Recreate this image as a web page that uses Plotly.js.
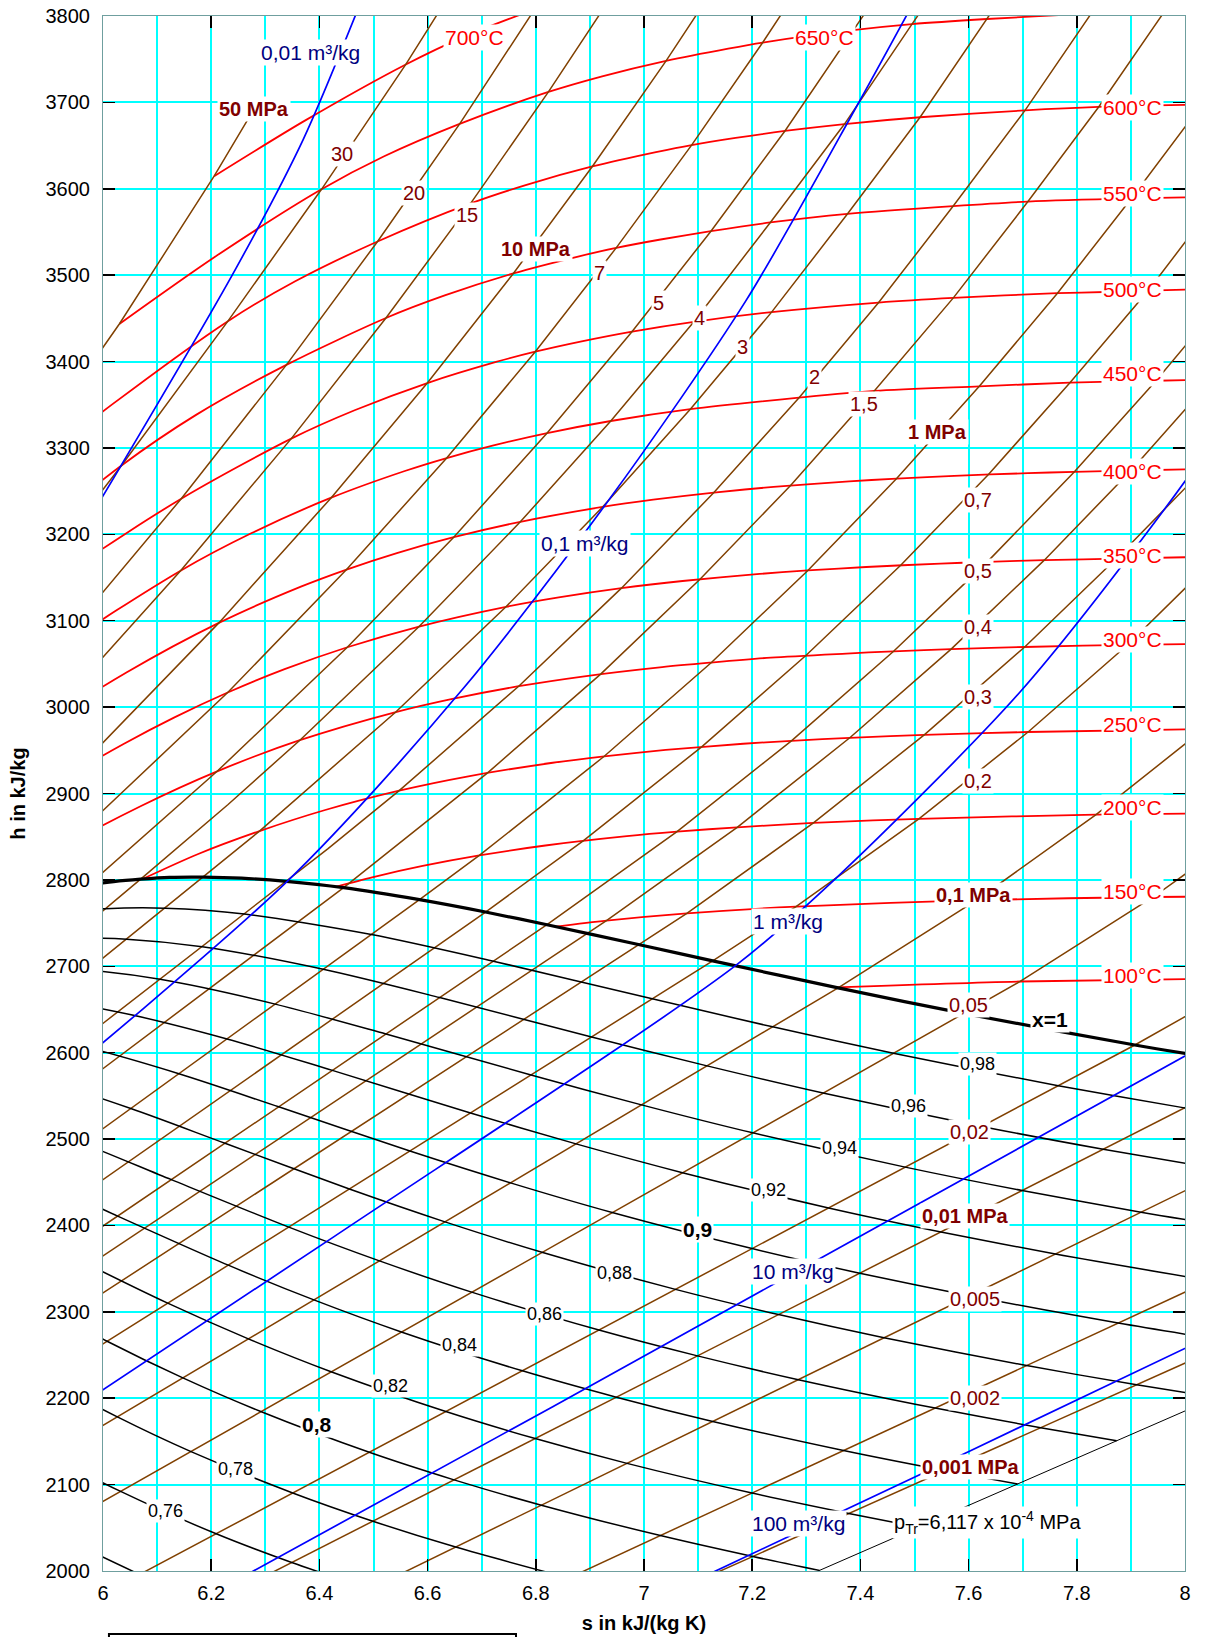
<!DOCTYPE html>
<html>
<head>
<meta charset="utf-8">
<script src="https://cdn.plot.ly/plotly-3.0.1.min.js"></script>
<style>html,body{margin:0;padding:0;background:#fff;}#chart{width:1206px;height:1637px;}</style>
</head>
<body>
<div id="chart"></div>
<script>
// ---------- Isobars (p in MPa): s in kJ/(kg K), h in kJ/kg ----------
const isobarNames = ['50','30','20','15','10','7','5','4','3','2','1,5','1','0,7','0,5','0,4','0,3','0,2','0,1','0,05','0,02','0,01','0,005','0,002','0,001'];
const isobarS = [
 [5.5563,5.8175,6.0302,6.2054,6.275],
 [5.4481,5.7954,6.0342,6.2309,6.4039,6.5597,6.8365],
 [5.5525,5.9043,6.1446,6.3390,6.5075,6.6593,6.7979],
 [4.823,5.3108,5.4438,5.8819,6.1434,6.3480,6.5230,6.6796,6.8233,6.9573],
 [4.9377,5.6159,5.7596,5.9460,6.2141,6.4219,6.5995,6.7585,6.9045,7.0408,7.1693],
 [5.0072,5.8148,5.9319,6.2305,6.4502,6.6353,6.7990,6.9486,7.0880,7.2194,7.3444],
 [5.0579,5.9737,6.2110,6.4516,6.6483,6.8210,6.9781,7.1237,7.2605,7.3864,7.5136],
 [5.0878,6.0696,6.2312,6.3639,6.5843,6.7714,6.9386,7.0922,7.2335,7.3706,7.4954,7.6214],
 [5.1235,6.1855,6.2893,6.5412,6.7449,6.9235,7.0856,7.2359,7.3763,7.5103,7.6339,7.7590],
 [5.1714,6.3390,6.4160,6.5475,6.7684,6.9583,7.1292,7.2866,7.4337,7.5716,7.7043,7.8268,7.9509],
 [5.2044,6.4448,6.7109,6.9199,7.1035,7.2709,7.4256,7.5718,7.7097,7.8404,7.9640,8.0860],
 [5.2509,6.5850,6.6956,6.9265,7.1246,7.3029,7.4670,7.6198,7.7642,7.9008,8.0311],
 [5.2925,6.7071,6.8876,7.1066,7.2992,7.4745,7.6367,7.7873,7.9318,8.1976],
 [5.3326,6.8207,7.0610,7.2725,7.4614,7.6346,7.7956,7.9464,8.0893],
 [5.3599,6.8955,6.9306,7.1723,7.3804,7.5677,7.7399,7.9003,8.0494],
 [5.3957,6.9917,7.0792,7.3132,7.5180,7.7037,7.8727,8.0347],
 [5.4480,7.1270,7.2810,7.5081,7.7100,7.8941,8.0598],
 [5.5420,7.3588,7.6148,7.8356,8.0346],
 [5.6425,7.5931,7.6953,7.9413,8.1592],
 [5.7846,7.9073,8.1261],
 [5.8989,8.1488],
 [6.0185,8.3938],
 [6.1841,8.7227],
 [6.3142,8.9749]
];
const isobarH = [
 [3025.0,3252.6,3443.5,3614.6,3688],
 [2821.0,3084.8,3279.7,3446.8,3599.4,3743.9,4020.0],
 [2816.9,3061.7,3241.2,3396.2,3539.0,3675.1,3807.8],
 [2310.7,2610.8,2693.1,2975.7,3157.9,3310.8,3450.4,3583.1,3712.1,3839.1],
 [2330.1,2725.5,2810.3,2924.0,3097.5,3242.4,3375.1,3502.0,3625.8,3748.1,3870.0],
 [2321.1,2772.6,2839.9,3016.9,3159.2,3288.3,3411.4,3531.6,3650.6,3769.3,3888.3],
 [2302.3,2794.2,2925.7,3069.3,3196.7,3317.2,3434.7,3550.9,3666.9,3783.6,3900.3],
 [2286.9,2800.8,2887.3,2961.7,3093.3,3214.5,3331.2,3446.0,3561.0,3674.9,3790.6,3906.3],
 [2264.7,2803.2,2856.5,2994.3,3116.1,3231.7,3344.9,3457.2,3571.0,3682.8,3796.5,3912.2],
 [2231.3,2798.3,2836.1,2903.3,3024.2,3137.7,3248.4,3358.2,3468.3,3580.0,3690.7,3803.0,3918.2],
 [2207.0,2791.0,2923.9,3038.2,3148.0,3256.5,3366.0,3473.7,3585.2,3694.7,3807.0,3920.6],
 [2172.7,2777.1,2828.3,2943.1,3051.6,3158.2,3264.5,3371.3,3479.1,3588.8,3697.4],
 [2143.1,2762.8,2845.2,2954.0,3059.7,3164.2,3269.2,3375.5,3482.0,3700.4],
 [2115.7,2748.1,2855.8,2961.0,3064.6,3168.1,3272.4,3377.8,3484.5],
 [2098.0,2738.1,2752.8,2860.9,2964.5,3067.1,3170.1,3273.9,3379.3],
 [2075.9,2724.9,2761.2,2865.9,2967.9,3069.6,3171.8,3275.5],
 [2045.8,2706.3,2769.1,2870.7,2971.2,3072.1,3174.3],
 [1997.8,2675.0,2776.6,2875.5,2974.5],
 [1953.8,2645.2,2682.4,2780.2,2877.8],
 [1901.7,2608.9,2686.2],
 [1866.3,2583.9],
 [1833.9,2560.7],
 [1795.1,2532.9],
 [1768.4,2513.7]
];
// triple-point isobar p_Tr = 6.117e-4 MPa
const tripleS = [6.4089,9.1555];
const tripleH = [1750.6,2500.9];

// ---------- Isotherms (°C) ----------
const isothermNames = ['100','150','200','250','300','350','400','450','500','550','600','650','700'];
const isothermS = [
 [7.3541,7.6953,8.1261],
 [6.8371,6.9306,7.0792,7.2810,7.6148,7.9413,8.3642],
 [6.4302,6.4975,6.5909,6.6956,6.8177,6.9683,7.0610,7.1723,7.3132,7.5081,7.8356,8.1592],
 [6.0730,6.1749,6.2893,6.4107,6.5475,6.6753,6.8313,6.9265,7.0402,7.1833,7.2725,7.3804,7.5180,7.7100,8.0346],
 [5.7937,5.9319,6.0703,6.2110,6.3639,6.5412,6.6459,6.7684,6.8864,7.0335,7.1246,7.2345,7.3740,7.4614,7.5677,7.7037,7.8941,8.2172],
 [5.4438,5.7118,5.9460,6.0380,6.1321,6.2305,6.3357,6.4516,6.5843,6.7449,6.8424,6.9583,7.0713,7.2139,7.3029,7.4107,7.5481,7.6346,7.7399,7.8727,8.0598],
 [5.1434,5.5525,5.8819,6.0433,6.2141,6.3658,6.4502,6.5432,6.6483,6.7714,6.9235,7.0170,7.1292,7.2394,7.3793,7.4670,7.5735,7.7097,7.7956,7.9003,8.0347],
 [5.4481,5.6779,5.9043,6.1434,6.2749,6.4219,6.5579,6.6353,6.7219,6.8210,6.9386,7.0856,7.2866,7.4256,7.6198,7.7873,7.9464,8.0494],
 [5.1778,5.4744,5.7954,5.9524,6.1446,6.3480,6.4651,6.5995,6.7266,6.7990,6.8826,6.9781,7.0922,7.2359,7.4337,7.5718,7.7642,7.8692,7.9318,8.0041],
 [5.5563,5.7857,6.0342,6.1713,6.3390,6.5230,6.6317,6.7585,6.8800,6.9486,7.0307,7.1237,7.2335,7.3763,7.5716,7.7097,7.9008,8.0045],
 [5.8175,6.0170,6.2309,6.3553,6.5075,6.6796,6.7828,6.9045,7.0221,7.0880,7.1693,7.2605,7.3706,7.5103,7.7043,7.8404,8.0311],
 [6.0302,6.2078,6.4039,6.5188,6.6593,6.8233,6.9227,7.0408,7.1556,7.2194,7.3864,7.4954,7.6339,7.8268,7.9640],
 [6.2054,6.3740,6.5597,6.6668,6.7979]
];
const isothermH = [
 [2675.6,2682.4,2686.2],
 [2745.9,2752.8,2761.2,2769.1,2776.6,2780.2,2782.3],
 [2792.0,2803.0,2816.1,2828.3,2839.8,2850.6,2855.8,2860.9,2865.9,2870.7,2875.5,2877.8],
 [2801.0,2829.7,2856.5,2880.9,2903.3,2919.9,2935.6,2943.1,2950.4,2957.6,2961.0,2964.5,2967.9,2971.2,2974.5],
 [2786.5,2839.9,2885.6,2925.7,2961.7,2994.3,3009.6,3024.2,3035.4,3046.3,3051.6,3057.3,3062.0,3064.6,3067.1,3069.6,3072.1,3074.5],
 [2693.1,2826.6,2924.0,2957.3,2988.1,3016.9,3043.9,3069.3,3093.3,3116.1,3127.0,3137.7,3146.0,3154.2,3158.2,3162.2,3166.1,3168.1,3170.1,3171.8,3174.3],
 [2580.8,2816.9,2975.7,3040.0,3097.5,3139.4,3159.2,3178.3,3196.7,3214.5,3231.7,3240.1,3248.4,3254.9,3261.3,3264.5,3267.7,3270.8,3272.4,3273.9,3275.5],
 [2821.0,2950.6,3061.7,3157.9,3201.5,3242.4,3273.3,3288.3,3302.9,3317.2,3331.2,3344.9,3358.2,3366.0,3371.3,3375.5,3377.8,3379.3],
 [2722.5,2906.5,3084.8,3163.0,3241.2,3310.8,3343.6,3375.1,3399.5,3411.4,3423.1,3434.7,3446.0,3457.2,3468.3,3473.7,3479.1,3480.8,3482.0,3483.4],
 [3025.0,3154.4,3279.7,3338.0,3396.2,3450.4,3476.5,3502.0,3521.8,3531.6,3541.3,3550.9,3561.0,3571.0,3580.0,3585.2,3588.8,3590.0],
 [3252.6,3350.4,3446.8,3492.9,3539.0,3583.1,3604.6,3625.8,3642.4,3650.6,3658.8,3666.9,3674.9,3682.8,3690.7,3694.7,3697.4],
 [3443.5,3521.6,3599.4,3637.3,3675.1,3712.1,3730.2,3748.1,3762.3,3769.3,3783.6,3790.6,3796.5,3803.0,3807.0],
 [3614.6,3679.2,3743.9,3775.9,3807.8]
];

// ---------- Lines of constant quality x ----------
const qualityNames = ['1','0,98','0,96','0,94','0,92','0,9','0,88','0,86','0,84','0,82','0,8','0,78','0,76','0,74'];
const qualityS = [
 [5.9737,6.0198,6.0696,6.1228,6.1855,6.2560,6.3390,6.4448,6.5850,6.7071,6.8207,6.9917,7.1270,7.3588,7.5931,7.9073,8.1488],
 [5.9126,6.0041,6.1147,6.2613,6.4961,6.7215,7.0151,7.2377,7.4631,7.7657,7.9988,8.2354],
 [5.8516,5.9387,6.0439,6.1834,6.4071,6.6223,6.9031,7.1166,7.3330,7.6242,7.8488,8.0771],
 [5.7905,5.8732,5.9731,6.1056,6.3182,6.5231,6.7912,6.9954,7.2030,7.4827,7.6988,7.9187,8.2150],
 [5.7295,5.8078,5.9023,6.0277,6.2292,6.4239,6.6793,6.8743,7.0729,7.3412,7.5488,7.7604,8.0457],
 [5.6684,5.7423,5.8315,5.9499,6.1403,6.3247,6.5673,6.7532,6.9429,7.1997,7.3988,7.6020,7.8765,8.0880],
 [5.6074,5.6769,5.7607,5.8720,6.0514,6.2255,6.4554,6.6321,6.8129,7.0582,7.2488,7.4437,7.7072,7.9106,8.0568],
 [5.5463,5.6114,5.6899,5.7942,5.9624,6.1263,6.3434,6.5110,6.6828,6.9167,7.0989,7.2853,7.5380,7.7332,7.8737],
 [5.4853,5.5460,5.6191,5.7163,5.8735,6.0271,6.2315,6.3898,6.5528,6.7752,6.9489,7.1270,7.3688,7.5559,7.6906],
 [5.4242,5.4805,5.5483,5.6385,5.7846,5.9278,6.1196,6.2687,6.4228,6.6337,6.7989,6.9686,7.1995,7.3785,7.5075],
 [5.6956,5.8286,6.0076,6.1476,6.2927,6.4922,6.6489,6.8103,7.0303,7.2011,7.3244],
 [5.6067,5.7294,5.8957,6.0265,6.1627,6.3507,6.4989,6.6519,6.8610],
 [5.5177,5.7838,5.9054,6.0326,6.2092,6.3489,6.4936],
 [5.6718,5.7842,5.9026,6.0676]
];
const qualityH = [
 [2794.2,2798.0,2800.8,2802.9,2803.2,2802.0,2798.3,2791.0,2777.1,2762.8,2748.1,2724.9,2706.3,2675.0,2645.2,2608.9,2583.9],
 [2761.4,2766.6,2767.3,2760.5,2736.8,2705.9,2662.3,2629.9,2599.1,2561.8,2536.1,2512.3],
 [2728.6,2732.4,2731.4,2722.7,2696.5,2663.8,2618.2,2584.7,2553.0,2514.6,2488.2,2463.8],
 [2695.8,2698.1,2695.5,2684.9,2656.2,2621.6,2574.2,2539.6,2506.9,2467.5,2440.4,2415.4,2385.3],
 [2663.0,2663.8,2659.6,2647.1,2615.9,2579.5,2530.2,2494.4,2460.8,2420.3,2392.5,2366.9,2336.1],
 [2630.2,2629.6,2623.7,2609.3,2575.6,2537.3,2486.1,2449.3,2414.7,2373.2,2344.7,2318.5,2287.0,2265.3],
 [2597.4,2595.3,2587.8,2571.5,2535.3,2495.1,2442.1,2404.1,2368.6,2326.0,2296.8,2270.0,2237.8,2215.6,2200.8],
 [2564.6,2561.0,2551.9,2533.7,2495.1,2453.0,2398.1,2359.0,2322.5,2278.9,2249.0,2221.5,2188.6,2165.9,2150.8],
 [2531.8,2526.7,2516.0,2495.9,2454.8,2410.8,2354.0,2313.8,2276.4,2231.7,2201.2,2173.1,2139.4,2116.2,2100.8],
 [2499.1,2492.5,2480.1,2458.1,2414.5,2368.7,2310.0,2268.7,2230.4,2184.6,2153.3,2124.6,2090.2,2066.5,2050.7],
 [2374.2,2326.5,2266.0,2223.5,2184.3,2137.4,2105.5,2076.2,2041.0,2016.8,2000.7],
 [2333.9,2284.3,2221.9,2178.4,2138.2,2090.3,2057.6,2027.7,1991.8],
 [2293.6,2177.9,2133.2,2092.1,2043.1,2009.8,1979.2],
 [2133.9,2088.1,2046.0,1996.0]
];

// ---------- Isochores (m³/kg) ----------
const isochoreNames = ['0,01','0,1','1','10','100'];
const isochoreS = [
 [5.7976,6.0072,6.245,6.37,6.47],
 [5.4402,5.6304,6.3405,6.6658,6.9353,7.1879,7.3942,7.49],
 [5.6715,6.4264,7.1685,7.3566,7.6947,7.9678,8.2248],
 [5.7617,6.8313,8.0068],
 [6.9706,7.5996,8.2095]
];
const isochoreH = [
 [3035,3252,3507,3657,3806],
 [2318.2,2418.0,2798.3,3021.5,3240.0,3469.9,3696.7,3806],
 [2073.5,2386.8,2700.4,2802.9,3017.2,3233.9,3463.0],
 [1822.5,2190.2,2598.4],
 [1952.2,2138.1,2320.3]
];

// ---------- Labels ----------
const isobarLabelText = ['50 MPa','30','20','15','10 MPa','7','5','4','3','2','1,5','1 MPa','0,7','0,5','0,4','0,3','0,2','0,1 MPa','0,05','0,02','0,01 MPa','0,005','0,002','0,001 MPa'];
const isobarLabelS = [6.280,6.4425,6.574,6.672,6.800,6.918,7.026,7.103,7.1826,7.315,7.4068,7.542,7.617,7.6174,7.6174,7.6174,7.6174,7.6097,7.600,7.602,7.594,7.6116,7.6116,7.6039];
const isobarLabelH = [3692,3640,3595,3570,3530,3502,3468,3450,3417,3382,3351,3318,3240,3157,3093,3012,2914,2783,2655,2508,2411,2315,2200,2120];
const isobarLabelBold = [1,0,0,0,1,0,0,0,0,0,0,1,0,0,0,0,0,1,0,0,1,0,0,1];

const isothermLabelText = ['700°C','650°C','600°C','550°C','500°C','450°C','400°C','350°C','300°C','250°C','200°C','150°C','100°C'];
const isothermLabelS = [6.686,7.333,7.903,7.903,7.903,7.903,7.903,7.903,7.903,7.903,7.903,7.903,7.903];
const isothermLabelH = [3775,3775,3694,3595,3483,3386,3273,3175,3078,2980,2884,2786,2689];

const qualityLabelText = ['x=1','0,98','0,96','0,94','0,92','0,9','0,88','0,86','0,84','0,82','0,8','0,78','0,76'];
const qualityLabelS = [7.751,7.617,7.488,7.361,7.231,7.098,6.945,6.816,6.659,6.531,6.396,6.245,6.116];
const qualityLabelH = [2638,2587,2538,2490,2441,2395,2345,2297,2262,2214,2170,2118,2070];
const qualityLabelBold = [1,0,0,0,0,1,0,0,0,0,1,0,0];

const isochoreLabelText = ['0,01 m³/kg','0,1 m³/kg','1 m³/kg','10 m³/kg','100 m³/kg'];
const isochoreLabelS = [6.383,6.891,7.266,7.275,7.285];
const isochoreLabelH = [3758,3189,2752,2347,2055];

const tripleLabel = 'p<sub>Tr</sub>=6,117 x 10<sup>-4</sup> MPa';
const tripleLabelS = 7.458;
const tripleLabelH = 2056;

// ---------- Build ----------
const FONT = 'Liberation Sans, Arial, Helvetica, sans-serif';
const BROWN = '#804000', RED = '#ff0000', BLUE = '#0000ff', DARKRED = '#800000', NAVY = '#000080';
const traces = [];
function addLine(s, h, color, width, name, shape) {
  traces.push({type: 'scatter', mode: 'lines', x: s, y: h, name: name,
    line: {color: color, width: width, shape: shape || 'linear', smoothing: 0.8},
    hoverinfo: 'skip', showlegend: false});
}
isothermS.forEach((s, i) => addLine(s, isothermH[i], RED, 1.8, isothermNames[i] + ' °C', 'spline'));
isobarS.forEach((s, i) => addLine(s, isobarH[i], BROWN, 1.5, isobarNames[i] + ' MPa'));
addLine(tripleS, tripleH, '#000000', 1, 'p_Tr');
qualityS.forEach((s, i) => addLine(s, qualityH[i], '#000000', i === 0 ? 3.2 : 1.5, 'x=' + qualityNames[i], 'spline'));
isochoreS.forEach((s, i) => addLine(s, isochoreH[i], BLUE, 1.7, isochoreNames[i] + ' m³/kg', 'spline'));

const annotations = [];
function addLabel(text, s, h, color, size, bold, xanchor) {
  annotations.push({x: s, y: h, xref: 'x', yref: 'y', text: bold ? '<b>' + text + '</b>' : text,
    showarrow: false, bgcolor: '#ffffff', borderpad: 1, xanchor: xanchor || 'center', yanchor: 'middle',
    font: {family: FONT, size: size, color: color}});
}
isobarLabelText.forEach((t, i) => addLabel(t, isobarLabelS[i], isobarLabelH[i], DARKRED, 20, isobarLabelBold[i]));
isothermLabelText.forEach((t, i) => addLabel(t, isothermLabelS[i], isothermLabelH[i], RED, 21, 0));
qualityLabelText.forEach((t, i) => addLabel(t, qualityLabelS[i], qualityLabelH[i], '#000000', qualityLabelBold[i] ? 21 : 18, qualityLabelBold[i]));
isochoreLabelText.forEach((t, i) => addLabel(t, isochoreLabelS[i], isochoreLabelH[i], NAVY, 21, 0));
addLabel(tripleLabel, tripleLabelS, tripleLabelH, '#000000', 20, 0, 'left');

const axisCommon = {
  showgrid: true, gridcolor: '#00ffff', gridwidth: 2, zeroline: false,
  ticks: 'inside', ticklen: 12, tickwidth: 1.5, tickcolor: '#000000', mirror: 'ticks',
  showline: true, linecolor: '#6f9f9f', linewidth: 1,
  tickfont: {family: FONT, size: 20, color: '#000000'}, fixedrange: true
};
const layout = {
  width: 1206, height: 1637,
  margin: {l: 103, r: 21, t: 16, b: 66, autoexpand: false},
  paper_bgcolor: '#ffffff', plot_bgcolor: '#ffffff', showlegend: false,
  font: {family: FONT, color: '#000000'},
  xaxis: Object.assign({}, axisCommon, {
    range: [6, 8], tick0: 6, dtick: 0.2, ticklabelstandoff: 4,
    minor: {tick0: 6, dtick: 0.1, showgrid: true, gridcolor: '#00ffff', gridwidth: 2, ticks: ''},
    title: {text: '<b>s in kJ/(kg K)</b>', font: {family: FONT, size: 20, color: '#000000'}, standoff: 12}
  }),
  yaxis: Object.assign({}, axisCommon, {
    range: [2000, 3800], tick0: 2000, dtick: 100, tickformat: 'd', ticklabelstandoff: 8,
    title: {text: '<b>h in kJ/kg</b>', font: {family: FONT, size: 20, color: '#000000'}, standoff: 14}
  }),
  annotations: annotations,
  shapes: [{type: 'rect', xref: 'paper', yref: 'paper', x0: 0.0055, x1: 0.3817, y0: -0.0405, y1: -0.08,
    line: {color: '#000000', width: 2}, fillcolor: 'rgba(0,0,0,0)'}]
};
Plotly.newPlot('chart', traces, layout, {staticPlot: true, displayModeBar: false});
</script>
</body>
</html>
